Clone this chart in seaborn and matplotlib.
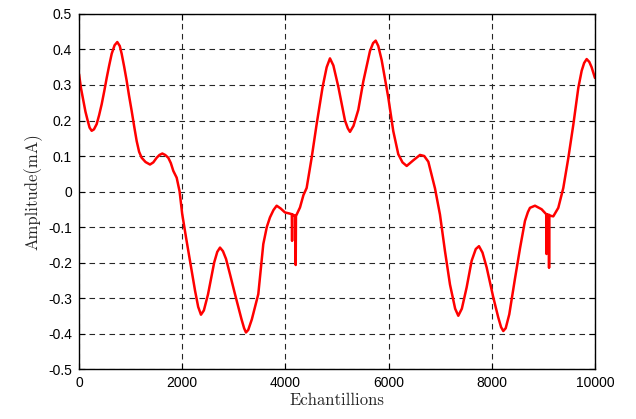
import numpy as np
import pandas as pd
import matplotlib
matplotlib.use('Agg')
import matplotlib.pyplot as plt
import seaborn as sns

# Points (numero d'echantillon, amplitude en mA), 10 par ligne
echantillons = [
    0, 40, 84, 125, 168, 205, 246, 290, 343, 390,
    440, 490, 537, 585, 634, 690, 742, 790, 827, 875,
    924, 970, 1021, 1070, 1118, 1165, 1215, 1290, 1376, 1440,
    1505, 1560, 1615, 1670, 1731, 1780, 1828, 1893, 1950, 2000,
    2075, 2151, 2250, 2310, 2364, 2420, 2500, 2620, 2680, 2733,
    2790, 2850, 2930, 3023, 3150, 3200, 3236, 3280, 3350, 3475,
    3572, 3640, 3701, 3770, 3831, 3910, 3992, 4080, 4125, 4130,
    4135, 4150, 4195, 4200, 4205, 4215, 4283, 4350, 4412, 4509,
    4606, 4722, 4800, 4864, 4930, 5026, 5155, 5210, 5252, 5320,
    5413, 5510, 5640, 5700, 5750, 5800, 5866, 5994, 6091, 6188,
    6270, 6351, 6480, 6609, 6690, 6770, 6899, 6996, 7093, 7190,
    7290, 7351, 7420, 7513, 7610, 7690, 7752, 7820, 7901, 8029,
    8126, 8180, 8223, 8270, 8339, 8450, 8547, 8643, 8700, 8740,
    8837, 8966, 9055, 9060, 9065, 9105, 9110, 9115, 9125, 9192,
    9289, 9386, 9483, 9580, 9677, 9742, 9790, 9839, 9890, 9935,
    9999]
amplitude = [
    0.331, 0.290, 0.256, 0.225, 0.200, 0.180, 0.171, 0.175, 0.190, 0.215,
    0.246, 0.283, 0.320, 0.355, 0.388, 0.412, 0.421, 0.410, 0.388, 0.352,
    0.312, 0.270, 0.227, 0.183, 0.142, 0.112, 0.095, 0.083, 0.076, 0.082,
    0.095, 0.103, 0.107, 0.103, 0.095, 0.080, 0.058, 0.039, 0.000, -0.063,
    -0.130, -0.195, -0.280, -0.325, -0.347, -0.335, -0.290, -0.200, -0.170, -0.158,
    -0.168, -0.190, -0.235, -0.289, -0.360, -0.385, -0.397, -0.390, -0.360, -0.289,
    -0.148, -0.100, -0.073, -0.052, -0.040, -0.048, -0.059, -0.062, -0.064, -0.139,
    -0.064, -0.066, -0.068, -0.207, -0.068, -0.066, -0.045, -0.010, 0.010, 0.095,
    0.190, 0.295, 0.350, 0.375, 0.355, 0.295, 0.200, 0.178, 0.168, 0.185,
    0.230, 0.310, 0.396, 0.418, 0.425, 0.410, 0.370, 0.265, 0.170, 0.105,
    0.082, 0.072, 0.088, 0.103, 0.100, 0.084, 0.009, -0.065, -0.168, -0.262,
    -0.330, -0.350, -0.330, -0.270, -0.195, -0.162, -0.154, -0.172, -0.214, -0.298,
    -0.355, -0.382, -0.393, -0.385, -0.346, -0.245, -0.160, -0.083, -0.058, -0.046,
    -0.040, -0.050, -0.064, -0.176, -0.064, -0.066, -0.215, -0.066, -0.068, -0.070,
    -0.046, 0.010, 0.094, 0.188, 0.292, 0.340, 0.362, 0.373, 0.365, 0.350,
    0.320]

xticks = [0, 2000, 4000, 6000, 8000, 10000]
yticks = [-0.5, -0.4, -0.3, -0.2, -0.1, 0, 0.1, 0.2, 0.3, 0.4, 0.5]
ytick_labels = ['-0.5', '-0.4', '-0.3', '-0.2', '-0.1', '0', '0.1', '0.2', '0.3', '0.4', '0.5']

df = pd.DataFrame({'Echantillions': echantillons, 'Amplitude': amplitude})

sns.set_style('ticks')
plt.rcParams['font.family'] = ['Liberation Sans', 'DejaVu Sans']

fig = plt.figure(figsize=(6.36, 4.19), dpi=100)
ax = fig.add_axes([0.1242, 0.1193, 0.8113, 0.8473])

sns.lineplot(data=df, x='Echantillions', y='Amplitude', color='#ff0000', linewidth=1.8, ax=ax)

ax.set_xlim(0, 10000)
ax.set_ylim(-0.5, 0.5)
ax.set_xticks(xticks)
ax.set_xticklabels([str(t) for t in xticks])
ax.set_yticks(yticks)
ax.set_yticklabels(ytick_labels)
ax.tick_params(direction='in', top=True, right=True, length=4, width=0.8,
               labelsize=10, colors='black', pad=5)
ax.grid(True, color='0.15', linestyle=(0, (5, 4)), linewidth=0.8)
for s in ax.spines.values():
    s.set_linewidth(1.0)
    s.set_color('black')

ax.set_xlabel('Echantillions', fontsize=12, family=['cmr10', 'DejaVu Serif'], labelpad=2)
ax.set_ylabel('Amplitude(mA)', fontsize=12, family=['cmr10', 'DejaVu Serif'], labelpad=4)

fig.savefig('out.png', dpi=100)
